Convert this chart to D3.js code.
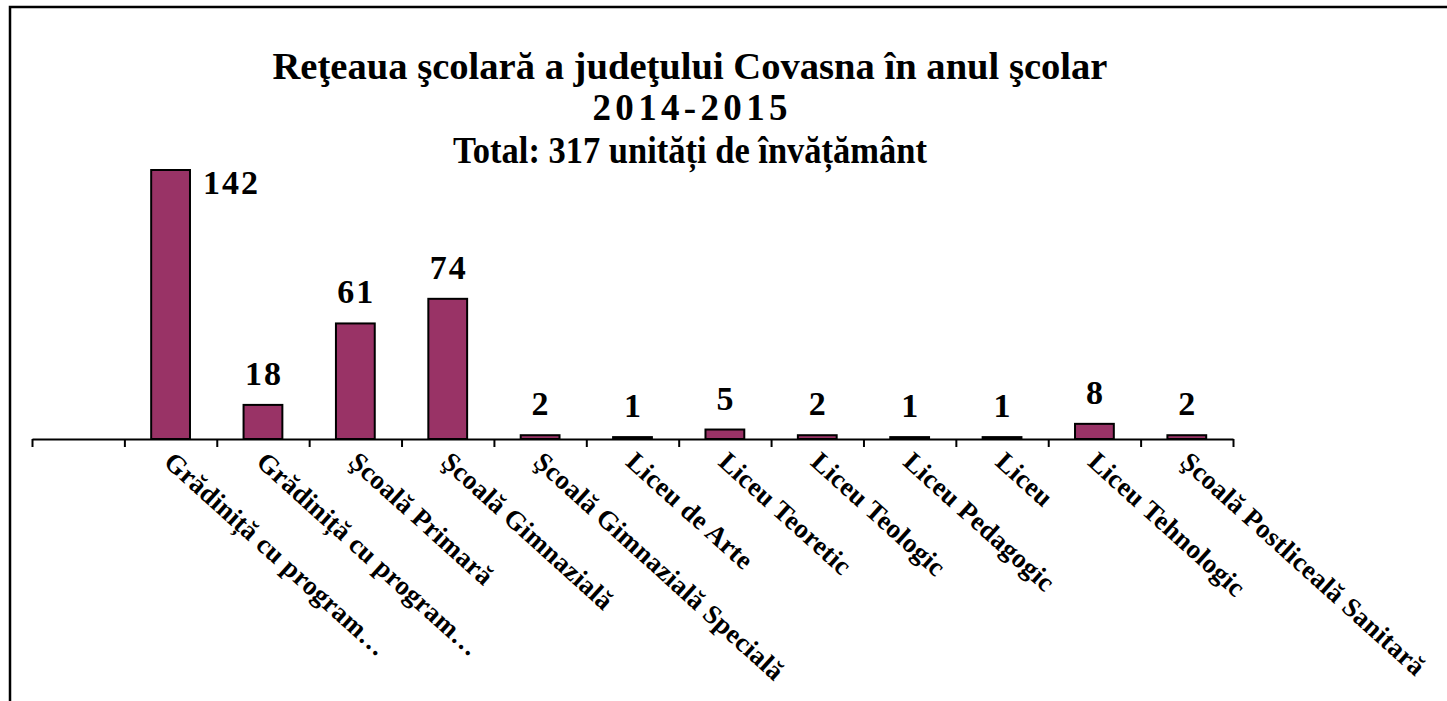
<!DOCTYPE html>
<html>
<head>
<meta charset="utf-8">
<script src="https://cdn.jsdelivr.net/npm/d3@7"></script>
<style>
  html, body { margin: 0; padding: 0; background: #fff; overflow: hidden; }
  svg text { font-family: "Liberation Serif", "Times New Roman", serif; font-weight: bold; fill: #000; }
</style>
</head>
<body>
<svg id="chart"></svg>
<script>
// date
var categories = ["", "Grădiniță cu program…", "Grădiniță cu program…", "Şcoală Primară", "Şcoală Gimnazială",
    "Şcoală Gimnazială Specială", "Liceu de Arte", "Liceu Teoretic", "Liceu Teologic", "Liceu Pedagogic",
    "Liceu", "Liceu Tehnologic", "Şcoală Postliceală Sanitară"];
var values = [null, 142, 18, 61, 74, 2, 1, 5, 2, 1, 1, 8, 2];
var titleLines = ["Reţeaua şcolară a judeţului Covasna în anul şcolar", "2014-2015", "Total: 317 unități de învățământ"];

var iWidth = 1447, iHeight = 701;
var sBarColor = "#993366";

var svg = d3.select("#chart")
    .attr("width", iWidth)
    .attr("height", iHeight);

// chenar
svg.append("rect")
    .attr("x", 10).attr("y", 7)
    .attr("width", 1460).attr("height", 720)
    .attr("fill", "none")
    .attr("stroke", "#000")
    .attr("stroke-width", 2.5);

// titlu
var aTitle = [
    { y: 79, len: 835, size: 37, adj: "spacingAndGlyphs" },
    { y: 120, len: 195, size: 37, adj: "spacing" },
    { y: 163, len: 474, size: 37, adj: "spacingAndGlyphs" }
];
titleLines.forEach(function(t, i) {
    svg.append("text")
        .attr("x", 690)
        .attr("y", aTitle[i].y)
        .attr("text-anchor", "middle")
        .attr("font-size", aTitle[i].size)
        .attr("textLength", aTitle[i].len)
        .attr("lengthAdjust", aTitle[i].adj)
        .text(t);
});

// scale
var x0 = 32, x1 = 1233, yBase = 439;
var xScale = d3.scaleBand()
    .domain(d3.range(categories.length))
    .range([x0, x1])
    .padding(0);
var xTicks = d3.scaleLinear()
    .domain([0, categories.length])
    .range([x0, x1]);
var yScale = d3.scaleLinear()
    .domain([0, 142])
    .range([yBase, 170]);

var bw = xScale.bandwidth();
var barW = bw * 0.42;

// bare
var aData = values.map(function(v, i) { return { i: i, v: v }; }).filter(function(d) { return d.v !== null; });

svg.append("g").selectAll("rect")
    .data(aData)
    .enter().append("rect")
    .attr("x", function(d) { return xScale(d.i) + (bw - barW) / 2; })
    .attr("y", function(d) { return yScale(d.v); })
    .attr("width", barW)
    .attr("height", function(d) { return yBase - yScale(d.v); })
    .attr("fill", sBarColor)
    .attr("stroke", "#000")
    .attr("stroke-width", 2);

// axa x
var oAxis = d3.axisBottom(xTicks)
    .tickValues(d3.range(categories.length + 1))
    .tickFormat("")
    .tickSizeInner(8)
    .tickSizeOuter(0);
var gAxis = svg.append("g")
    .attr("transform", "translate(0," + yBase + ")")
    .call(oAxis);
gAxis.select(".domain").attr("stroke", "#000").attr("stroke-width", 2);
gAxis.selectAll(".tick line").attr("stroke", "#000").attr("stroke-width", 2);

// etichete valori
svg.append("g").selectAll("text")
    .data(aData)
    .enter().append("text")
    .attr("font-size", 34)
    .attr("letter-spacing", 2)
    .attr("text-anchor", function(d) { return d.v === 142 ? "start" : "middle"; })
    .attr("x", function(d) {
        return d.v === 142 ? xScale(d.i) + (bw + barW) / 2 + 13 : xScale(d.i) + bw / 2 + 1;
    })
    .attr("y", function(d) { return d.v === 142 ? yScale(d.v) + 24 : yScale(d.v) - 20; })
    .text(function(d) { return d.v; });

// etichete categorii
svg.append("g").selectAll("text")
    .data(categories.map(function(c, i) { return { i: i, c: c }; }))
    .enter().append("text")
    .attr("font-size", 27)
    .attr("letter-spacing", 0.3)
    .attr("transform", function(d) {
        return "translate(" + (xScale(d.i) + bw / 2 - 8) + "," + 464 + ") rotate(42)";
    })
    .text(function(d) { return d.c; });
</script>
</body>
</html>
